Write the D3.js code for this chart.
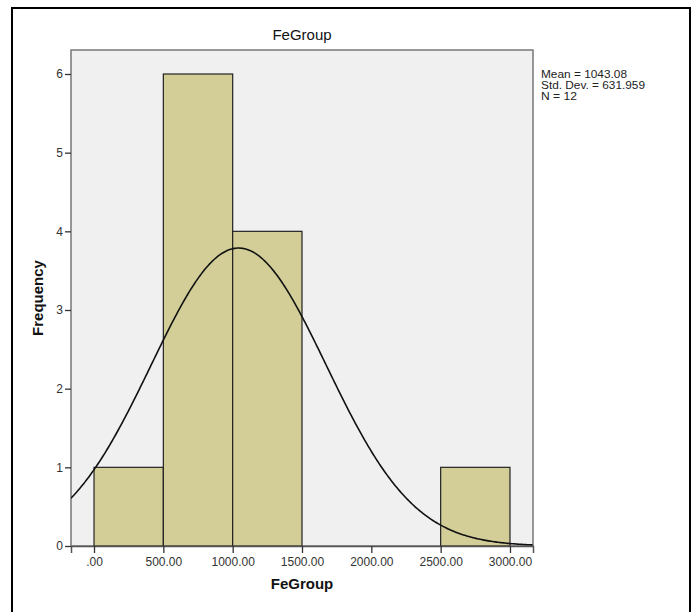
<!DOCTYPE html>
<html>
<head>
<meta charset="utf-8">
<script src="https://cdn.jsdelivr.net/npm/d3@7"></script>
<style>
  body { margin: 0; background: #fff; }
  text { font-family: "Liberation Sans", Arial, sans-serif; }
</style>
</head>
<body>
<script>
var config = {
    width: 695,
    height: 612,
    left: 71,
    right: 533,
    top: 50,
    bottom: 546
}

// histogram bins (lower edge, upper edge) and counts
var binStarts = [0, 500, 1000, 1500, 2000, 2500]
var binEnds = [500, 1000, 1500, 2000, 2500, 3000]
var counts = [1, 6, 4, 0, 0, 1]

var xTicks = [0, 500, 1000, 1500, 2000, 2500, 3000]
var yTicks = [0, 1, 2, 3, 4, 5, 6]

var mean = 1043.08
var stdDev = 631.959
var n = 12
var statLines = ["Mean = 1043.08", "Std. Dev. = 631.959", "N = 12"]

var svg = d3.select("body").append("svg")
    .attr("width", config.width)
    .attr("height", config.height)

// outer frame
svg.append("rect")
    .attr("x", 12).attr("y", 8)
    .attr("width", 678).attr("height", 620)
    .attr("fill", "none")
    .attr("stroke", "#000")
    .attr("stroke-width", 2)

var x = d3.scaleLinear().domain([-166, 3166]).range([config.left, config.right])
var y = d3.scaleLinear().domain([0, 6]).range([config.bottom, 74])

// plot background
svg.append("rect")
    .attr("x", config.left).attr("y", config.top)
    .attr("width", config.right - config.left)
    .attr("height", config.bottom - config.top)
    .attr("fill", "#f0f0f0")
    .attr("stroke", "#777")
    .attr("stroke-width", 1.5)

var bins = binStarts.map(function(s, i) { return {x0: s, x1: binEnds[i], count: counts[i]} })

svg.append("g").selectAll("rect")
    .data(bins.filter(function(d) { return d.count > 0 }))
    .enter().append("rect")
    .attr("x", function(d) { return x(d.x0) })
    .attr("y", function(d) { return y(d.count) })
    .attr("width", function(d) { return x(d.x1) - x(d.x0) })
    .attr("height", function(d) { return y(0) - y(d.count) })
    .attr("fill", "#d3ce98")
    .attr("stroke", "#222")
    .attr("stroke-width", 1.2)

// normal curve scaled to counts (bin width 500)
var binWidth = binEnds[0] - binStarts[0]
var curve = d3.range(-166, 3167, 10).map(function(v) {
    var z = (v - mean) / stdDev
    return [v, n * binWidth * Math.exp(-0.5 * z * z) / (stdDev * Math.sqrt(2 * Math.PI))]
})
svg.append("clipPath").attr("id", "clip").append("rect")
    .attr("x", config.left).attr("y", config.top)
    .attr("width", config.right - config.left)
    .attr("height", config.bottom - config.top)
svg.append("path")
    .datum(curve)
    .attr("clip-path", "url(#clip)")
    .attr("fill", "none")
    .attr("stroke", "#111")
    .attr("stroke-width", 1.6)
    .attr("d", d3.line().x(function(d) { return x(d[0]) }).y(function(d) { return y(d[1]) }))

// axes
var xAxis = svg.append("g")
    .attr("transform", "translate(0," + config.bottom + ")")
    .call(d3.axisBottom(x).tickValues(xTicks).tickSize(7).tickPadding(4)
        .tickFormat(function(d) { return d === 0 ? ".00" : d3.format(".2f")(d) }))
xAxis.select(".domain").attr("stroke", "#555").attr("stroke-width", 1.5)
xAxis.selectAll(".tick line").attr("stroke", "#333").attr("stroke-width", 1.3)
xAxis.selectAll("text").attr("font-size", 12).attr("fill", "#333")
    .attr("font-family", "'Liberation Sans', Arial, sans-serif")

var yAxis = svg.append("g")
    .attr("transform", "translate(" + config.left + ",0)")
    .call(d3.axisLeft(y).tickValues(yTicks).tickSize(6).tickPadding(2).tickFormat(d3.format("d")))
yAxis.select(".domain").remove()
yAxis.selectAll(".tick line").attr("stroke", "#333").attr("stroke-width", 1.3)
yAxis.selectAll("text").attr("font-size", 12).attr("fill", "#333")
    .attr("font-family", "'Liberation Sans', Arial, sans-serif")

// titles
var cx = (config.left + config.right) / 2
svg.append("text")
    .attr("x", cx).attr("y", 40)
    .attr("text-anchor", "middle")
    .attr("font-size", 15)
    .attr("fill", "#111")
    .text("FeGroup")

svg.append("text")
    .attr("x", cx).attr("y", 589)
    .attr("text-anchor", "middle")
    .attr("font-size", 15)
    .attr("font-weight", "bold")
    .attr("fill", "#111")
    .text("FeGroup")

svg.append("text")
    .attr("transform", "translate(43," + ((config.top + config.bottom) / 2) + ") rotate(-90)")
    .attr("text-anchor", "middle")
    .attr("font-size", 15)
    .attr("font-weight", "bold")
    .attr("fill", "#111")
    .text("Frequency")

svg.append("g").selectAll("text")
    .data(statLines)
    .enter().append("text")
    .attr("x", 541)
    .attr("y", function(d, i) { return 78 + i * 11 })
    .attr("font-size", 11)
    .attr("fill", "#222")
    .attr("textLength", function(d, i) { return [86, 104, 36][i] })
    .attr("lengthAdjust", "spacingAndGlyphs")
    .text(function(d) { return d })
</script>
</body>
</html>
